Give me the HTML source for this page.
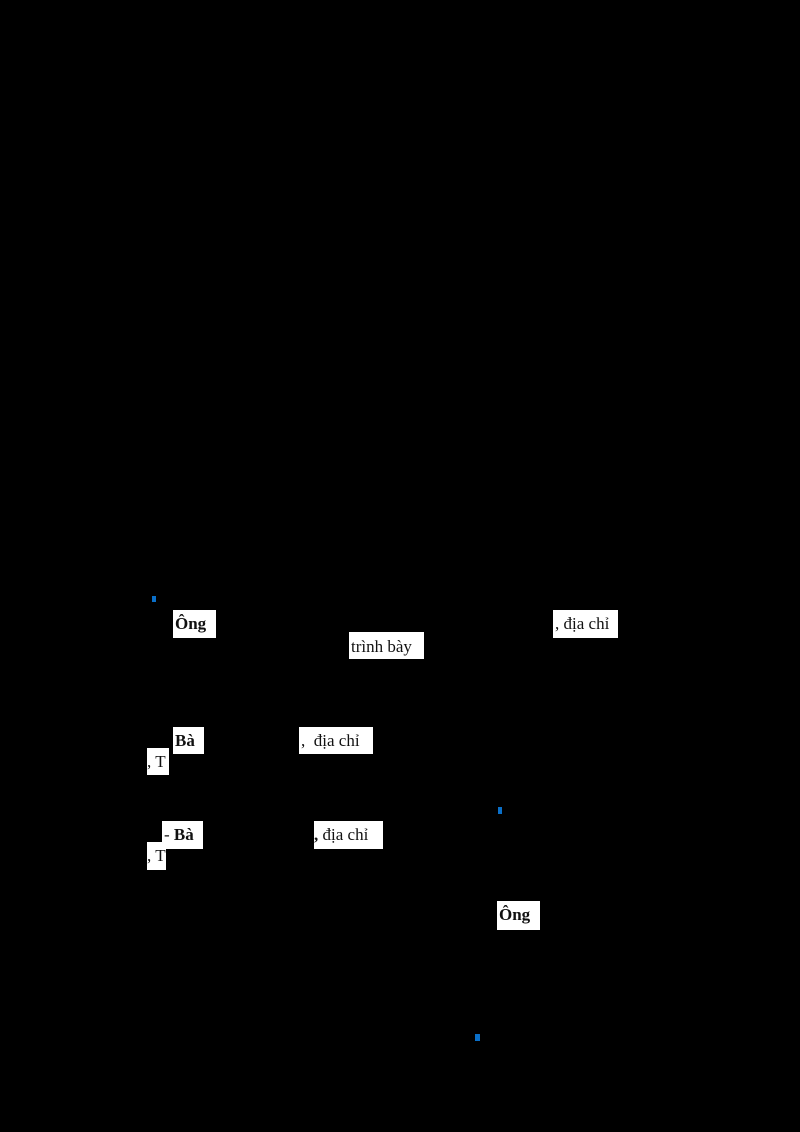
<!DOCTYPE html>
<html><head><meta charset="utf-8"><style>
html,body{margin:0;padding:0;background:#000;}
body{width:800px;height:1132px;position:relative;overflow:hidden;font-family:"Liberation Serif",serif;font-size:17px;color:#111;}
.w{position:absolute;background:#fff;white-space:nowrap;overflow:hidden;box-sizing:border-box;padding-left:2px;line-height:28px;}
.b{position:absolute;background:#0a6fc8;}
</style></head><body>
<div class="b" style="left:152px;top:596px;width:4px;height:6px"></div>
<div class="w" style="left:173px;top:610px;width:43px;height:28px;font-weight:bold">Ông</div>
<div class="w" style="left:553px;top:610px;width:65px;height:28px">, địa chỉ</div>
<div class="w" style="left:349px;top:632px;width:75px;height:27px;line-height:30px">trình bày</div>
<div class="w" style="left:173px;top:727px;width:31px;height:27px;font-weight:bold">Bà</div>
<div class="w" style="left:299px;top:727px;width:74px;height:27px">,&nbsp; địa chỉ</div>
<div class="w" style="left:147px;top:748px;width:22px;height:27px;padding-left:0">, T</div>
<div class="b" style="left:498px;top:807px;width:4px;height:7px"></div>
<div class="w" style="left:162px;top:821px;width:41px;height:28px;font-weight:bold"><span style="font-weight:normal">- </span>Bà</div>
<div class="w" style="left:314px;top:821px;width:69px;height:28px;padding-left:0"><b>,</b> địa chỉ</div>
<div class="w" style="left:147px;top:842px;width:19px;height:28px;padding-left:0">, T</div>
<div class="w" style="left:497px;top:901px;width:43px;height:29px;font-weight:bold">Ông</div>
<div class="b" style="left:475px;top:1034px;width:5px;height:7px"></div>
</body></html>
